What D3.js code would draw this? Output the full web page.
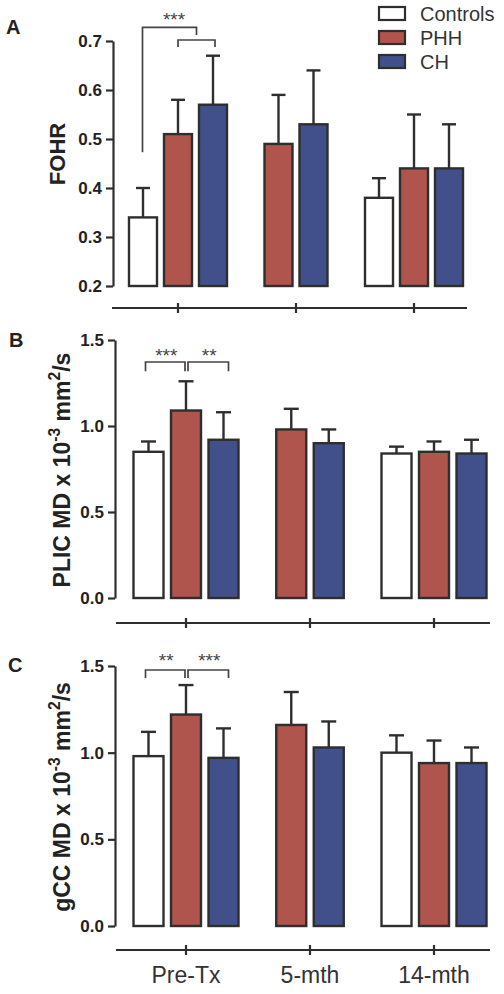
<!DOCTYPE html>
<html><head><meta charset="utf-8">
<script src="https://cdn.jsdelivr.net/npm/d3@7"></script>
<style>body{margin:0;background:#fff} svg{display:block}</style>
</head><body>
<svg id="c" width="504" height="994"></svg>
<script>
const groups = ["Pre-Tx","5-mth","14-mth"];
const seriesNames = ["Controls","PHH","CH"];
const fohrMean = [[0.34,0.51,0.57],[null,0.49,0.53],[0.38,0.44,0.44]];
const fohrSD   = [[0.06,0.07,0.10],[null,0.10,0.11],[0.04,0.11,0.09]];
const plicMean = [[0.85,1.09,0.92],[null,0.98,0.90],[0.84,0.85,0.84]];
const plicSD   = [[0.06,0.17,0.16],[null,0.12,0.08],[0.04,0.06,0.08]];
const gccMean  = [[0.98,1.22,0.97],[null,1.16,1.03],[1.00,0.94,0.94]];
const gccSD    = [[0.14,0.17,0.17],[null,0.19,0.15],[0.10,0.13,0.09]];
const fohrTicks = [0.2,0.3,0.4,0.5,0.6,0.7];
const mdTicks = [0.0,0.5,1.0,1.5];
const sigB = [{group:0,a:"Controls",b:"PHH",label:"***"},{group:0,a:"PHH",b:"CH",label:"**"}];
const sigC = [{group:0,a:"Controls",b:"PHH",label:"**"},{group:0,a:"PHH",b:"CH",label:"***"}];
const sigA = {group:0,a:"Controls",b:"PHH",c:"CH",label:"***"};

const fills = {Controls:"#ffffff",PHH:"#b0544e",CH:"#41508a"};
const INK = "#2e2e2e";
const FONT = "'Liberation Sans', Arial, Helvetica, sans-serif";
const svg = d3.select("#c");

function panel(o){
  const g = svg.append("g");
  const y = d3.scaleLinear().domain(o.domain).range(o.yRange);
  const xg = d3.scalePoint().domain(groups).range(o.gRange);
  const inners = groups.map((gr,gi)=>{
    const present = seriesNames.filter((s,si)=>o.mean[gi][si]!=null);
    const n = present.length;
    return d3.scaleBand().domain(present).range([-n*o.step/2, n*o.step/2]).paddingInner(0.2).paddingOuter(0.1);
  });
  const cx = (gi,s)=> xg(groups[gi]) + inners[gi](s) + inners[gi].bandwidth()/2;

  g.append("g").attr("transform",`translate(${o.yAxisX},0)`)
   .call(d3.axisLeft(y).tickValues(o.ticks).tickFormat(d3.format(".1f")).tickSize(7).tickSizeOuter(0).tickPadding(4))
   .call(s=>{
     s.select(".domain").attr("stroke",INK).attr("stroke-width",2.2);
     s.selectAll(".tick line").attr("stroke",INK).attr("stroke-width",2.2);
     s.selectAll(".tick text").attr("fill","#222").attr("font-family",FONT).attr("font-weight","bold").attr("font-size",17);
   });

  groups.forEach((gr,gi)=>{
    seriesNames.forEach((s,si)=>{
      const m = o.mean[gi][si]; if(m==null) return;
      const sd = o.sd[gi][si];
      const x0 = xg(gr)+inners[gi](s), bw = inners[gi].bandwidth();
      const c = x0+bw/2;
      g.append("line").attr("x1",c).attr("x2",c).attr("y1",y(m)).attr("y2",y(m+sd)).attr("stroke",INK).attr("stroke-width",2.4);
      g.append("line").attr("x1",c-bw/4).attr("x2",c+bw/4).attr("y1",y(m+sd)).attr("y2",y(m+sd)).attr("stroke",INK).attr("stroke-width",2.4);
      g.append("rect").attr("x",x0).attr("y",y(m)).attr("width",bw).attr("height",y(o.domain[0])-y(m))
        .attr("fill",fills[s]).attr("stroke",INK).attr("stroke-width",2.4);
    });
  });

  g.append("line").attr("x1",o.xLine[0]).attr("x2",o.xLine[1]).attr("y1",o.xAxisY).attr("y2",o.xAxisY).attr("stroke",INK).attr("stroke-width",2.2);
  groups.forEach(gr=>{
    g.append("line").attr("x1",xg(gr)).attr("x2",xg(gr)).attr("y1",o.xAxisY-5).attr("y2",o.xAxisY+5).attr("stroke",INK).attr("stroke-width",2.2);
    if(o.xLabels) g.append("text").attr("x",xg(gr)).attr("y",o.xAxisY+33).attr("text-anchor","middle")
      .attr("font-family",FONT).attr("font-size",23).attr("fill","#333").text(gr);
  });

  g.append("text").attr("x",o.letterX).attr("y",o.letterY).attr("font-family",FONT).attr("font-weight","bold")
    .attr("font-size",20).attr("fill","#222").text(o.letter);

  const t = g.append("text").attr("transform",`translate(${o.titleX},${o.titleY}) rotate(-90)`).attr("text-anchor","middle")
    .attr("font-family",FONT).attr("font-weight","bold").attr("font-size",o.titleSize).attr("fill","#222");
  o.title.forEach(p=>{
    const ts = t.append("tspan").text(p.t);
    if(p.sup){ ts.attr("font-size",o.titleSize*0.68).attr("dy",-o.titleSize*0.42); }
    else if(p.after){ ts.attr("dy",o.titleSize*0.42); }
  });

  return {g,y,xg,cx};
}

function bracket(g, x1, x2, yTop, yL, yR){
  g.append("path").attr("d",`M${x1},${yL}V${yTop}H${x2}V${yR}`).attr("fill","none").attr("stroke","#444").attr("stroke-width",1.7);
}
function stars(g,x,yb,label){
  g.append("text").attr("x",x).attr("y",yb).attr("text-anchor","middle").attr("font-family",FONT).attr("font-size",19).attr("fill","#444").text(label);
}

const A = panel({mean:fohrMean, sd:fohrSD, domain:[0.2,0.7], yRange:[286,41], ticks:fohrTicks, gRange:[178,414], step:35,
  yAxisX:113, xAxisY:308, xLine:[112,467], letter:"A", letterX:6, letterY:34,
  title:[{t:"FOHR"}], titleX:65, titleY:154, titleSize:22});
{
  const xs = A.cx(0,"PHH"), xe = A.cx(0,"CH")+2;
  bracket(A.g, xs, xe, A.y(0.702), A.y(0.688), A.y(0.688));
  const mid = (xs+xe)/2;
  bracket(A.g, A.cx(0,"Controls")-0.5, mid, A.y(0.728), A.y(0.473), A.y(0.712));
  stars(A.g, 174, 26, sigA.label);
}

const mdTitle = (pre)=>[{t:pre+" MD x 10"},{t:"-3",sup:true},{t:" mm",after:true},{t:"2",sup:true},{t:"/s",after:true}];
const B = panel({mean:plicMean, sd:plicSD, domain:[0,1.5], yRange:[598,340], ticks:mdTicks, gRange:[186,434], step:37.5,
  yAxisX:115, xAxisY:623, xLine:[116,490], letter:"B", letterX:9, letterY:347,
  title:mdTitle("PLIC"), titleX:70, titleY:470, titleSize:23});
sigB.forEach((s,i)=>{
  const x1 = B.cx(s.group,s.a) + (i===0?-3:2), x2 = B.cx(s.group,s.b) + (i===0?-1:5);
  bracket(B.g, x1, x2, B.y(1.372), B.y(1.319), B.y(1.319));
  stars(B.g, (x1+x2)/2+1, 362, s.label);
});

const C = panel({mean:gccMean, sd:gccSD, domain:[0,1.5], yRange:[926,666], ticks:mdTicks, gRange:[186,434], step:37.5,
  yAxisX:115, xAxisY:950, xLine:[116,490], letter:"C", letterX:8, letterY:672, xLabels:true,
  title:mdTitle("gCC"), titleX:70, titleY:797, titleSize:23});
sigC.forEach((s,i)=>{
  const x1 = C.cx(s.group,s.a) + (i===0?-3:2), x2 = C.cx(s.group,s.b) + (i===0?-1:5);
  bracket(C.g, x1, x2, C.y(1.477), C.y(1.431), C.y(1.431));
  stars(C.g, (x1+x2)/2+1, 667, s.label);
});

const leg = svg.append("g");
seriesNames.forEach((s,i)=>{
  leg.append("rect").attr("x",379).attr("y",7+i*24).attr("width",26).attr("height",13)
    .attr("fill",fills[s]).attr("stroke",INK).attr("stroke-width",2.2);
  leg.append("text").attr("x",420).attr("y",14+i*24).attr("dy","0.36em").attr("font-family",FONT).attr("font-size",20).attr("fill","#333").text(s);
});
</script>
</body></html>
